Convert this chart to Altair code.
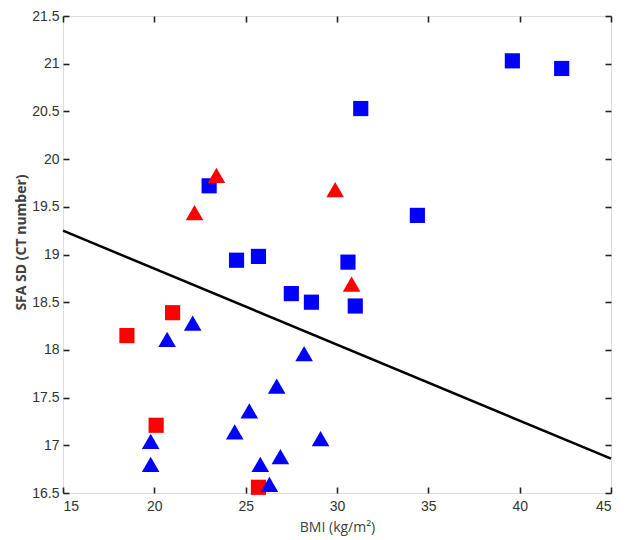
import altair as alt
import pandas as pd

# Blue squares
bs_x = [39.6, 42.3, 31.3, 23.0, 34.4, 24.5, 25.7, 30.6, 27.5, 28.6, 31.0]
bs_y = [21.03, 20.95, 20.53, 19.72, 19.41, 18.94, 18.98, 18.92, 18.59, 18.50, 18.46]
# Red squares
rs_x = [21.0, 18.5, 20.1, 25.7]
rs_y = [18.39, 18.15, 17.21, 16.56]
# Blue triangles
bt_x = [22.1, 20.7, 28.2, 26.7, 25.2, 24.4, 29.1, 19.8, 26.9, 25.8, 19.8, 26.3]
bt_y = [18.28, 18.11, 17.96, 17.62, 17.36, 17.14, 17.07, 17.04, 16.88, 16.80, 16.80, 16.59]
# Red triangles
rt_x = [23.4, 29.9, 22.2, 30.8]
rt_y = [19.83, 19.68, 19.44, 18.69]
# Regression line endpoints
line_x = [15, 45]
line_y = [19.25, 16.86]

x_ticks = [15, 20, 25, 30, 35, 40, 45]
y_ticks = [16.5, 17, 17.5, 18, 18.5, 19, 19.5, 20, 20.5, 21, 21.5]

W, H = 548, 477
TK = 6

rows = []
for xs, ys, grp, shp in [(bs_x, bs_y, "bs", "square"), (rs_x, rs_y, "rs", "square"),
                         (bt_x, bt_y, "bt", "triangle-up"), (rt_x, rt_y, "rt", "triangle-up")]:
    for a, b in zip(xs, ys):
        rows.append({"bmi": a, "sfa": b, "grp": grp, "shape": shp})
pts = pd.DataFrame(rows)

xscale = alt.Scale(domain=[15, 45], nice=False, zero=False)
yscale = alt.Scale(domain=[16.5, 21.5], nice=False, zero=False)

tick_style = dict(ticks=True, tickSize=TK, tickColor="#222", tickWidth=1.6,
                  domain=False, grid=False, offset=-TK)

xaxis = alt.Axis(orient="bottom", values=x_ticks, labelPadding=6,
                 labelFont="Liberation Sans", labelFontSize=14, labelColor="#333",
                 title="BMI (kg/m²)", titleFont="Open Sans", titleFontSize=14,
                 titleFontWeight="normal", titleColor="#404040",
                 titleY=34 + TK, titleBaseline="middle", **tick_style)
yaxis = alt.Axis(orient="left", values=y_ticks, format="~g", labelPadding=4,
                 labelFont="Liberation Sans", labelFontSize=14, labelColor="#333",
                 title="SFA SD (CT number)", titleFont="Open Sans", titleFontSize=14,
                 titleFontWeight="bold", titleColor="#404040",
                 titleX=-42 - TK, titleY=226, titleBaseline="middle", **tick_style)
xaxis_top = alt.Axis(orient="top", values=x_ticks, labels=False, title=None, **tick_style)
yaxis_right = alt.Axis(orient="right", values=y_ticks, labels=False, title=None, **tick_style)

color = alt.Color("grp:N", scale=alt.Scale(domain=["bs", "rs", "bt", "rt"],
                                           range=["#0000ff", "#ff0000", "#0000ff", "#ff0000"]),
                  legend=None)

base_pts = alt.Chart(pts)

squares = base_pts.transform_filter("datum.shape == 'square'").mark_point(
    shape="square", filled=True, size=230, opacity=1).encode(
    x=alt.X("bmi:Q", scale=xscale, axis=xaxis),
    y=alt.Y("sfa:Q", scale=yscale, axis=yaxis),
    color=color,
)
tris = base_pts.transform_filter("datum.shape == 'triangle-up'").mark_point(
    shape="triangle-up", filled=True, size=310, opacity=1).encode(
    x=alt.X("bmi:Q", scale=xscale, axis=xaxis_top),
    y=alt.Y("sfa:Q", scale=yscale, axis=yaxis_right),
    color=color,
)

line_df = pd.DataFrame({"bmi": line_x, "sfa": line_y})
line = alt.Chart(line_df).mark_line(color="black", strokeWidth=2.5).encode(
    x=alt.X("bmi:Q", scale=xscale, axis=None), y=alt.Y("sfa:Q", scale=yscale, axis=None))

chart = alt.layer(line, squares, tris).resolve_axis(
    x="independent", y="independent"
).properties(
    width=W, height=H,
    autosize=alt.AutoSizeParams(type="none"),
    padding={"left": 55, "top": 8, "right": 10, "bottom": 46},
).configure_view(stroke="#222", strokeWidth=1.6).configure(background="white")

chart.save("out.html", embed_options={"renderer": "svg", "actions": False})
